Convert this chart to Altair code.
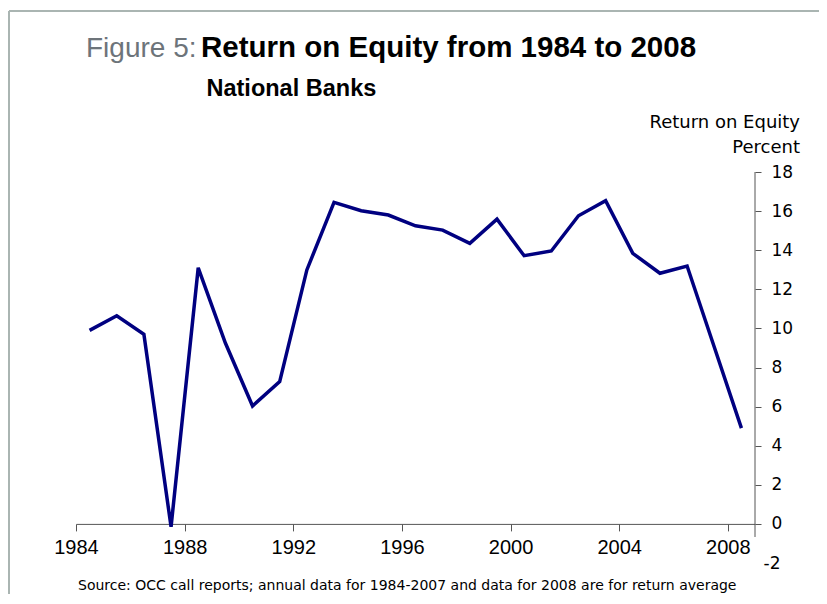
import altair as alt
import pandas as pd

years = list(range(1984, 2009))
roe = [9.9, 10.65, 9.7, -0.15, 13.1, 9.25, 6.03, 7.28, 12.99, 16.45,
       16.02, 15.8, 15.25, 15.03, 14.35, 15.59, 13.72, 13.96, 15.76, 16.53,
       13.84, 12.82, 13.19, 9.05, 4.9]
x_ticks = [1984, 1988, 1992, 1996, 2000, 2004, 2008]
y_ticks = list(range(-2, 19, 2))

title_prefix = "Figure 5:"
title_main = "Return on Equity from 1984 to 2008"
subtitle = "National Banks"
y_title = ["Return on Equity", "Percent"]
source = "Source: OCC call reports; annual data for 1984-2007 and data for 2008 are for return average"

W, H = 679, 391

df = pd.DataFrame({"year": [y + 0.5 for y in years], "roe": roe})

xscale = alt.Scale(domain=[1984, 2009], nice=False, zero=False)
yscale = alt.Scale(domain=[-2, 18], nice=False, zero=False)

xaxis = alt.Axis(values=x_ticks, format="d", offset=-H * 2 / 20, domainColor="#555555",
                 tickColor="#555555", tickSize=7, labelFont="Liberation Sans", labelFontSize=20,
                 labelColor="black", labelPadding=7, labelFlush=False, grid=False, title=None)
yaxis = alt.Axis(orient="right", values=y_ticks, domain=False, tickSize=6, tickColor="#555555",
                 labelFont="DejaVu Sans", labelFontSize=17, labelColor="black",
                 labelPadding={"condition": {"test": "datum.value < 0", "value": 2}, "value": 10},
                 labelExpr="datum.value < 0 ? '-' + abs(datum.value) : datum.label",
                 labelAlign="left", grid=False, title=None,
                 tickOpacity={"condition": {"test": "datum.value < 0", "value": 0}, "value": 1})

line = alt.Chart(df).mark_line(color="#000080", strokeWidth=3.5).encode(
    x=alt.X("year:Q", scale=xscale, axis=xaxis),
    y=alt.Y("roe:Q", scale=yscale, axis=yaxis),
)

ydom = alt.Chart(pd.DataFrame({"a": [18], "b": [-0.67]})).mark_rule(color="#555555", strokeWidth=1).encode(
    x=alt.value(W),
    y=alt.Y("a:Q", scale=yscale, axis=yaxis),
    y2="b:Q",
)

def txt(s, x, y, **kw):
    return alt.Chart(pd.DataFrame({"t": [s]})).mark_text(baseline="alphabetic", **kw).encode(
        text="t:N", x=alt.value(x), y=alt.value(y))

t1 = txt(title_prefix, 10, -114.7, align="left", font="Liberation Sans", fontSize=28, color="#6d747a")
t2 = txt(title_main, 125, -114.7, align="left", font="Liberation Sans", fontSize=29.5, fontWeight="bold", color="black")
t3 = txt(subtitle, 130.5, -76, align="left", font="Liberation Sans", fontSize=23.5, fontWeight="bold", color="black")
t4 = txt(y_title[0], 724, -43.7, align="right", font="DejaVu Sans", fontSize=18, color="black")
t5 = txt(y_title[1], 724, -19, align="right", font="DejaVu Sans", fontSize=18, color="black")
t6 = txt(source, 2, 418, align="left", font="DejaVu Sans", fontSize=14, color="black")

border_top = alt.Chart(pd.DataFrame({"k": [0]})).mark_rule(color="#aab5b2", strokeWidth=2).encode(
    x=alt.value(-67), x2=alt.value(760), y=alt.value(-161))
border_left = alt.Chart(pd.DataFrame({"k": [0]})).mark_rule(color="#aab5b2", strokeWidth=2).encode(
    x=alt.value(-67), y=alt.value(-161), y2=alt.value(430))

chart = alt.layer(border_top, border_left, line, ydom, t1, t2, t3, t4, t5, t6).properties(
    width=W, height=H,
    autosize=alt.AutoSizeParams(type="none"),
    padding={"left": 68, "top": 164, "right": 64, "bottom": 31},
).configure_view(stroke=None)

chart.save("out.html", embed_options={"renderer": "svg", "actions": False})
